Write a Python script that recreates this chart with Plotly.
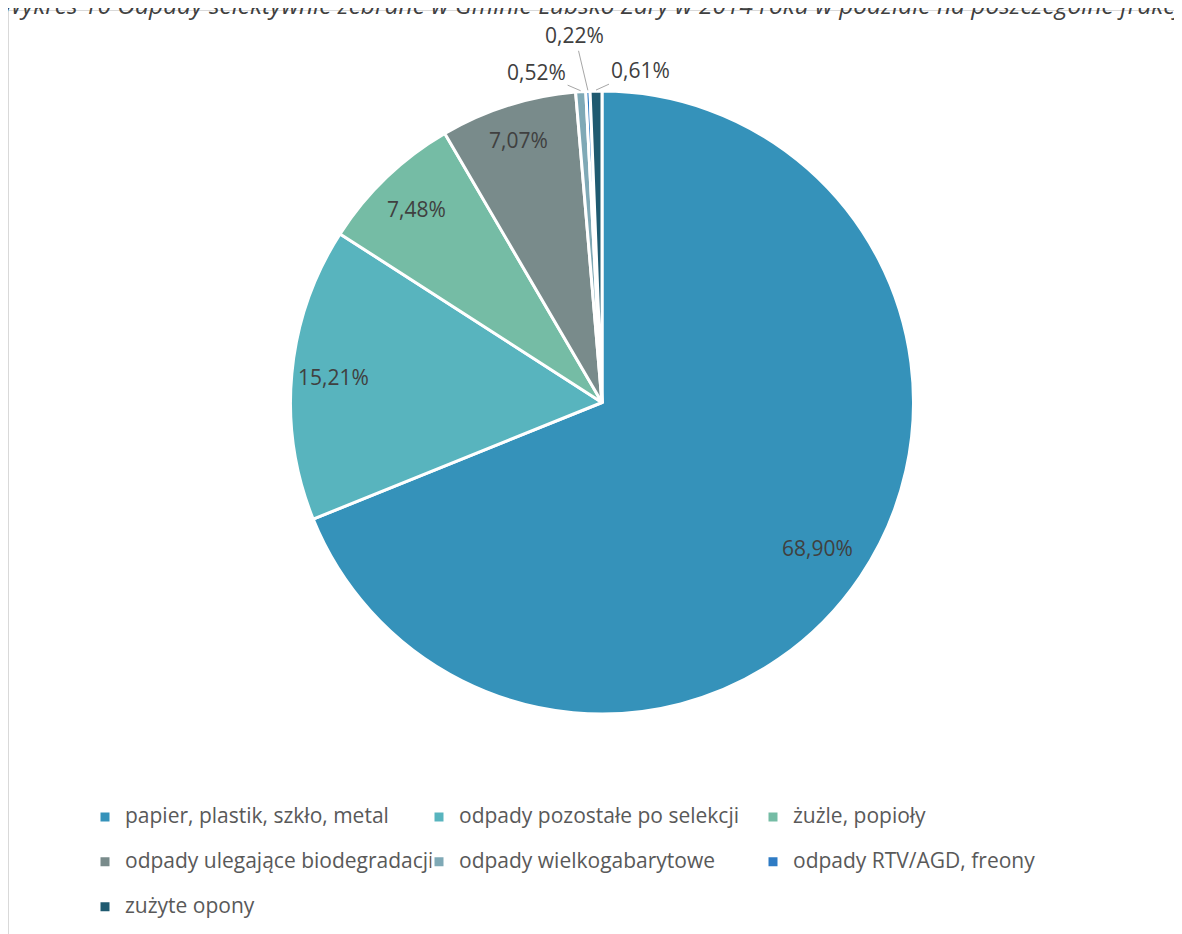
import math
import plotly.graph_objects as go

categories = [
    "papier, plastik, szkło, metal",
    "odpady pozostałe po selekcji",
    "żużle, popioły",
    "odpady ulegające biodegradacji",
    "odpady wielkogabarytowe",
    "odpady RTV/AGD, freony",
    "zużyte opony",
]
values = [68.90, 15.21, 7.48, 7.07, 0.52, 0.22, 0.61]
colors = ["#3592BA", "#58B4BE", "#75BCA5", "#798B8B", "#7FA9B6", "#2E7BC4", "#1F5A70"]
title_text = ("Wykres 10 Odpady selektywnie zebrane w Gminie Lubsko Żary w 2014 roku "
              "w podziale na poszczególne frakcje")

# label placement style: radial fraction for inside labels, pixel offsets for outside labels
label_radius = [0.835, 0.865, 0.86, 0.885, None, None, None]
label_offsets = [None, None, None, None, (-44, -19), (-13, -55), (44, -20)]

W, H = 1182, 934
OFF = 8  # page body margin
cx, cy, R = 602 - OFF, 402.5 - OFF, 311.5

legend_labels = ['<span style="font-size:21px">' + c + "</span><br> " for c in categories]

fig = go.Figure()
fig.add_trace(go.Pie(
    labels=legend_labels,
    values=values,
    sort=False,
    direction="clockwise",
    rotation=0,
    marker=dict(colors=colors, line=dict(color="white", width=3)),
    textinfo="none",
    domain=dict(x=[(cx - R) / W, (cx + R) / W], y=[1 - (cy + R) / H, 1 - (cy - R) / H]),
    hoverinfo="value",
    showlegend=True,
))

total = sum(values)
annotations = []
cum = 0.0
for v, rf, off in zip(values, label_radius, label_offsets):
    mid = (cum + v / 2) / total * 2 * math.pi
    cum += v
    txt = f"{v:.2f}%".replace(".", ",")
    if rf is not None:
        px = cx + rf * R * math.sin(mid)
        py = cy - rf * R * math.cos(mid)
        annotations.append(dict(
            text=txt, xref="paper", yref="paper", x=px / W, y=1 - py / H,
            xanchor="center", yanchor="middle", showarrow=False,
            font=dict(family="Open Sans", size=21, color="#404040"),
        ))
    else:
        px = cx + (R + 1) * math.sin(mid)
        py = cy - (R + 1) * math.cos(mid)
        annotations.append(dict(
            text=txt, xref="paper", yref="paper", x=px / W, y=1 - py / H,
            showarrow=True, arrowhead=0, arrowwidth=1, arrowcolor="#A6A6A6",
            ax=off[0], ay=off[1], standoff=0,
            font=dict(family="Open Sans", size=21, color="#404040"),
        ))

annotations.append(dict(
    text="<i>" + title_text + "</i>",
    xref="paper", yref="paper", x=(597 - OFF) / W, y=1 - 15 / H,
    xanchor="center", yanchor="bottom", showarrow=False,
    font=dict(family="Open Sans", size=24.5, color="#404040"),
))

fig.update_layout(
    width=W, height=H,
    margin=dict(l=0, r=0, t=0, b=0, autoexpand=False),
    paper_bgcolor="white",
    plot_bgcolor="white",
    font=dict(family="Open Sans", color="#595959"),
    legend=dict(
        orientation="h",
        x=(85 - OFF) / W, xanchor="left",
        y=1 - 792 / H, yanchor="top",
        entrywidth=289, entrywidthmode="pixels",
        valign="top",
        font=dict(family="Open Sans", size=16.1, color="#595959"),
        bgcolor="rgba(0,0,0,0)",
    ),
    shapes=[dict(
        type="rect", xref="paper", yref="paper",
        x0=0.5 / W, x1=1.05, y0=-0.05, y1=1 - 2.5 / H,
        line=dict(color="#D9D9D9", width=1), layer="below",
    )],
    annotations=annotations,
)

fig.write_html("out.html")
